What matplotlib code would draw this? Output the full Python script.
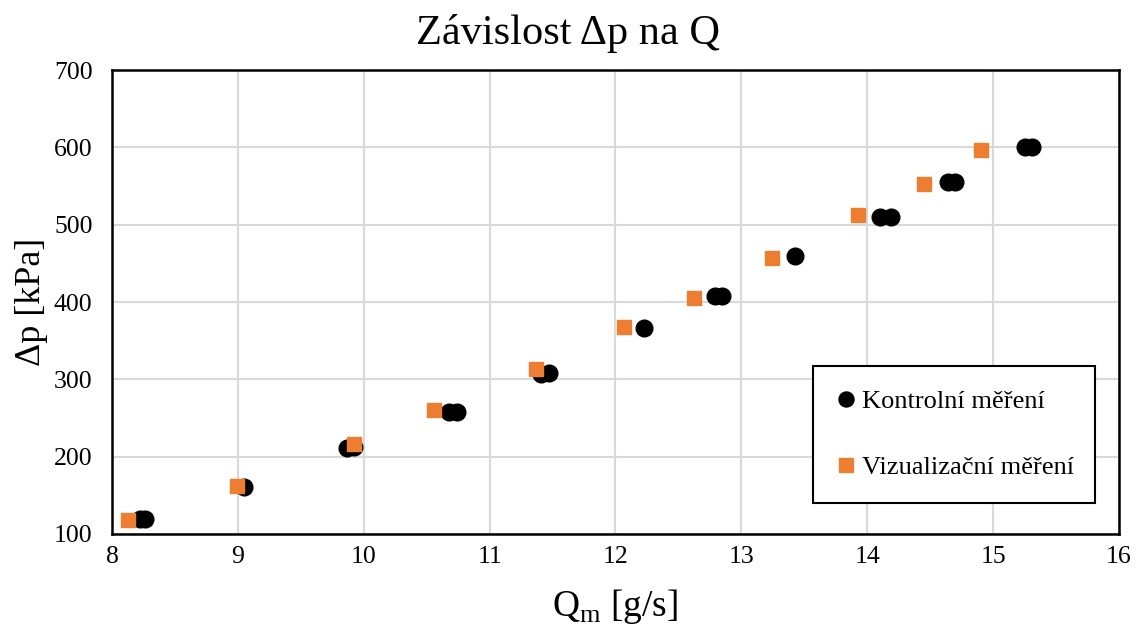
import matplotlib.pyplot as plt

plt.rcParams["font.family"] = ["Liberation Serif", "DejaVu Serif"]
plt.rcParams["mathtext.fontset"] = "custom"
plt.rcParams["mathtext.rm"] = "Liberation Serif"

# Kontrolní měření (repeated readings sit almost on top of each other)
kontrol_q = [8.22, 8.26, 9.05, 9.87, 9.92, 10.68, 10.74, 11.41, 11.47, 12.23,
             12.79, 12.85, 13.43, 14.10, 14.19, 14.64, 14.70, 15.25, 15.31]
kontrol_dp = [120, 120, 161, 211, 212, 258, 258, 307, 308, 366,
              408, 408, 459, 510, 510, 555, 555, 600, 600]

# Vizualizační měření
vizual_q = [8.13, 8.99, 9.92, 10.56, 11.37, 12.07, 12.62, 13.24, 13.93, 14.45, 14.90]
vizual_dp = [118, 162, 217, 260, 314, 368, 405, 457, 513, 553, 597]

x_ticks = [8, 9, 10, 11, 12, 13, 14, 15, 16]
y_ticks = [100, 200, 300, 400, 500, 600, 700]

fig = plt.figure(figsize=(11.36, 6.28), dpi=100)
ax = fig.add_axes([0.0986, 0.1497, 0.8864, 0.7388])

ax.plot(kontrol_q, kontrol_dp, "o", color="black", markersize=12,
        label="Kontrolní měření", zorder=3)
ax.plot(vizual_q, vizual_dp, "s", color="#ED7D31", markersize=10.5,
        label="Vizualizační měření", zorder=4)

ax.set_xlim(8, 16)
ax.set_ylim(100, 700)
ax.set_xticks(x_ticks)
ax.set_yticks(y_ticks)
ax.grid(color="#d9d9d9", linewidth=1.5)
ax.set_axisbelow(True)
for spine in ax.spines.values():
    spine.set_color("black")
    spine.set_linewidth(1.8)
ax.tick_params(axis="both", length=0, labelsize=18.5)
ax.tick_params(axis="x", pad=9)
ax.tick_params(axis="y", pad=14)

ax.set_xlabel("Q$_\\mathrm{m}$ [g/s]", fontsize=27, labelpad=13)
ax.set_ylabel("Δp [kPa]", fontsize=26, labelpad=4)
fig.suptitle("Závislost Δp na Q", fontsize=30.5, y=0.947, va="center")

leg = ax.legend(loc="lower left", bbox_to_anchor=(0.696, 0.067, 0.28, 0.299),
                mode="expand", fontsize=19, frameon=True, fancybox=False,
                edgecolor="black", framealpha=1, borderaxespad=0,
                labelspacing=1.6, borderpad=0.9, handlelength=0.7,
                handletextpad=0.25, markerscale=0.9)
leg.get_frame().set_linewidth(1.5)

fig.savefig("out.png", dpi=100)
